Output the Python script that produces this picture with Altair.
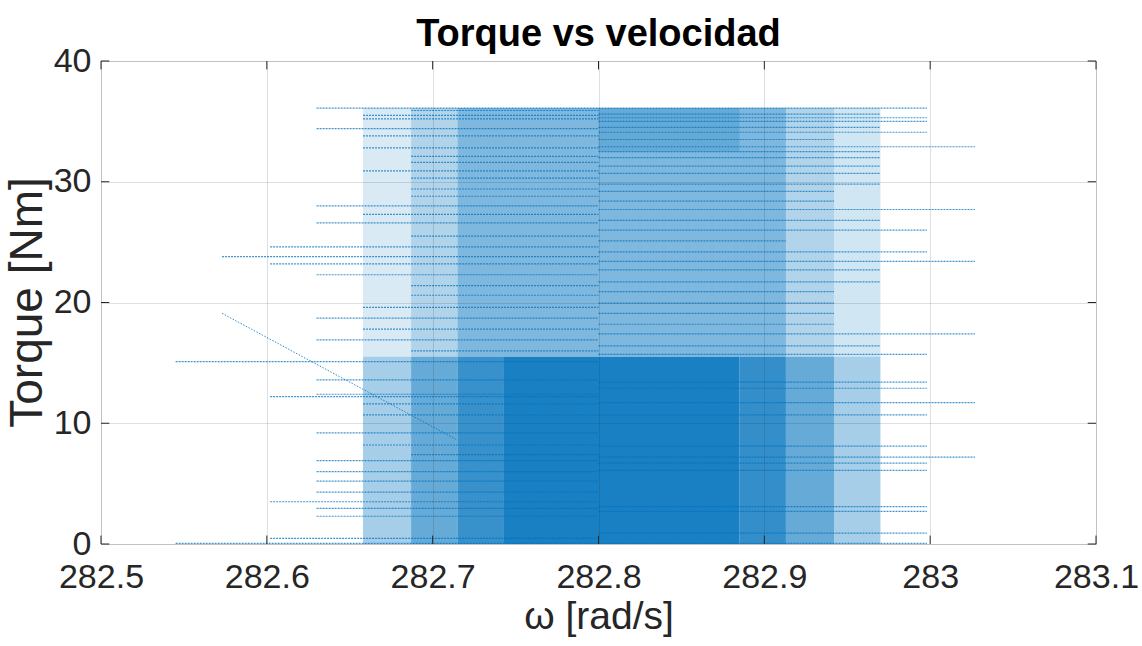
import altair as alt
import pandas as pd

# Quantised speed levels (rad/s) seen as column boundaries in the plot
omega_levels = [282.545, 282.573, 282.602, 282.630, 282.658, 282.687, 282.715, 282.743,
                282.772, 282.800, 282.828, 282.857, 282.885, 282.913, 282.942, 282.970,
                282.998, 283.027]
center_level = 9

# Horizontal traces reaching out to the left: torque and left-most speed level index
left_torque = [36.1, 35.9, 35.5, 35.2, 34.4, 33.8, 32.8, 32.1, 31.6, 30.9, 30.3, 29.4,
               28.8, 28.0, 27.3, 26.6, 25.5, 24.6, 23.8, 23.2, 22.3, 21.4, 20.6, 19.6,
               18.7, 17.8, 16.9, 16.0, 15.1, 13.6, 12.4, 12.2, 11.6, 10.7, 9.2, 8.2,
               7.4, 6.9, 6.0, 5.2, 4.3, 3.5, 2.95, 2.3, 0.46, 0.05]
left_start = [3, 5, 4, 4, 3, 4, 4, 5, 5, 4, 5, 5,
              5, 3, 4, 3, 5, 2, 1, 2, 3, 5, 5, 4,
              3, 4, 3, 5, 0, 3, 3, 2, 4, 4, 3, 4,
              5, 3, 3, 3, 3, 2, 3, 3, 2, 0]

# Horizontal traces reaching out to the right: torque and right-most speed level index
right_torque = [36.1, 35.6, 35.3, 35.0, 34.5, 34.1, 33.5, 32.9, 32.5, 32.0, 31.3, 30.7,
                29.8, 29.2, 28.4, 27.7, 26.8, 26.0, 25.1, 24.2, 23.4, 22.7, 21.7, 20.9,
                19.95, 19.1, 18.2, 17.4, 16.4, 15.7, 13.4, 12.9, 11.7, 10.7, 8.1, 7.2,
                6.7, 6.1, 3.1, 2.7, 0.9, 0.05]
right_end = [16, 15, 16, 16, 15, 16, 14, 17, 15, 15, 15, 15,
             15, 14, 14, 17, 15, 16, 13, 16, 17, 15, 15, 14,
             14, 14, 14, 17, 15, 16, 16, 16, 17, 16, 16, 17,
             16, 16, 16, 16, 16, 16]

# Densely overdrawn regions: speed level span, torque span, coverage
block_k_lo = [4, 5, 6, 7, 12, 13, 14, 4, 5, 6, 9, 13, 14]
block_k_hi = [5, 6, 7, 12, 13, 14, 15, 5, 6, 13, 12, 14, 15]
block_t_lo = [0, 0, 0, 0, 0, 0, 0, 15.5, 15.5, 15.5, 32.5, 15.5, 15.5]
block_t_hi = [15.5, 15.5, 15.5, 15.5, 15.5, 15.5, 15.5, 36.1, 36.1, 36.1, 36.1, 36.1, 36.1]
block_cover = [0.35, 0.6, 0.78, 0.9, 0.8, 0.6, 0.35, 0.15, 0.3, 0.5, 0.2, 0.3, 0.18]

# Start-up transient
diag_omega = [282.573, 282.715]
diag_torque = [19.1, 8.6]

x_ticks = [282.5, 282.6, 282.7, 282.8, 282.9, 283.0, 283.1]
y_ticks = [0, 10, 20, 30, 40]

BLUE = "#0072BD"
DARK = "#262626"
FONT = "Liberation Sans"

blocks = pd.DataFrame({
    "x": [omega_levels[k] for k in block_k_lo],
    "x2": [omega_levels[k] for k in block_k_hi],
    "y": block_t_lo, "y2": block_t_hi, "op": block_cover,
})
left_df = pd.DataFrame({
    "x": [omega_levels[k] for k in left_start],
    "x2": [omega_levels[center_level]] * len(left_start),
    "y": left_torque,
})
right_df = pd.DataFrame({
    "x": [omega_levels[center_level]] * len(right_end),
    "x2": [omega_levels[k] for k in right_end],
    "y": right_torque,
})
traces = pd.concat([left_df, right_df], ignore_index=True)
diag = pd.DataFrame({"x": diag_omega, "y": diag_torque})

xscale = alt.Scale(domain=[282.5, 283.1], nice=False, zero=False)
yscale = alt.Scale(domain=[0, 40], nice=False, zero=False)

xaxis = alt.Axis(values=x_ticks, labelExpr="format(datum.value, '.4~g')", grid=True,
                 gridColor=DARK, gridOpacity=0.15, domain=False, ticks=False,
                 labelFontSize=34, labelFont=FONT, labelColor=DARK, labelPadding=16,
                 labelOverlap=False, labelFlush=False, labelBound=False,
                 title="ω [rad/s]", titleFont=FONT, titleFontSize=39,
                 titleFontWeight="normal", titleColor=DARK, titlePadding=3, zindex=1)
yaxis = alt.Axis(values=y_ticks, grid=True, gridColor=DARK, gridOpacity=0.15, domain=False,
                 ticks=False, labelFontSize=34, labelFont=FONT, labelColor=DARK,
                 labelPadding=10, labelOverlap=False, labelFlush=False, labelBound=False,
                 title="Torque [Nm]", titleFont=FONT,
                 titleFontSize=46, titleFontWeight="normal", titleColor=DARK,
                 titleAngle=270, titleBaseline="alphabetic", titleAlign="center",
                 titleX=-60, titleY=241, zindex=1)

X = alt.X("x:Q", scale=xscale, axis=xaxis)
Y = alt.Y("y:Q", scale=yscale, axis=yaxis)

rects = alt.Chart(blocks).mark_rect(color=BLUE).encode(
    x=X, x2="x2:Q", y=Y, y2="y2:Q", opacity=alt.Opacity("op:Q", scale=None))

rules = alt.Chart(traces).mark_rule(color=BLUE, strokeWidth=1.2, strokeDash=[2, 1],
                                    opacity=0.75).encode(x=X, x2="x2:Q", y=Y)

diag_line = alt.Chart(diag).mark_line(color=BLUE, strokeWidth=1, strokeDash=[1.5, 1.5],
                                      opacity=0.8).encode(x=X, y=Y)

# MATLAB style inward ticks
tick_len_y = 0.7
tick_len_x = 0.005
xt = pd.DataFrame({"x": x_ticks * 2,
                   "y": [0] * len(x_ticks) + [40] * len(x_ticks),
                   "y2": [tick_len_y] * len(x_ticks) + [40 - tick_len_y] * len(x_ticks)})
yt = pd.DataFrame({"y": y_ticks * 2,
                   "x": [282.5] * len(y_ticks) + [283.1] * len(y_ticks),
                   "x2": [282.5 + tick_len_x] * len(y_ticks) + [283.1 - tick_len_x] * len(y_ticks)})
xtick_layer = alt.Chart(xt).mark_rule(color=DARK, strokeWidth=1).encode(x=X, y=Y, y2="y2:Q")
ytick_layer = alt.Chart(yt).mark_rule(color=DARK, strokeWidth=1).encode(x=X, x2="x2:Q", y=Y)

chart = alt.layer(rects, rules, diag_line, xtick_layer, ytick_layer).properties(
    width=995, height=483,
    title=alt.TitleParams("Torque vs velocidad", fontSize=38, fontWeight="bold", font=FONT,
                          color="#000000", anchor="middle", offset=8, dy=18),
    autosize=alt.AutoSizeParams(type="none"),
    padding={"left": 101, "top": 61, "right": 46, "bottom": 102},
).configure_view(stroke=DARK, strokeWidth=1.2).configure(background="white")

chart.save("out.html", embed_options={"renderer": "svg", "actions": False})
